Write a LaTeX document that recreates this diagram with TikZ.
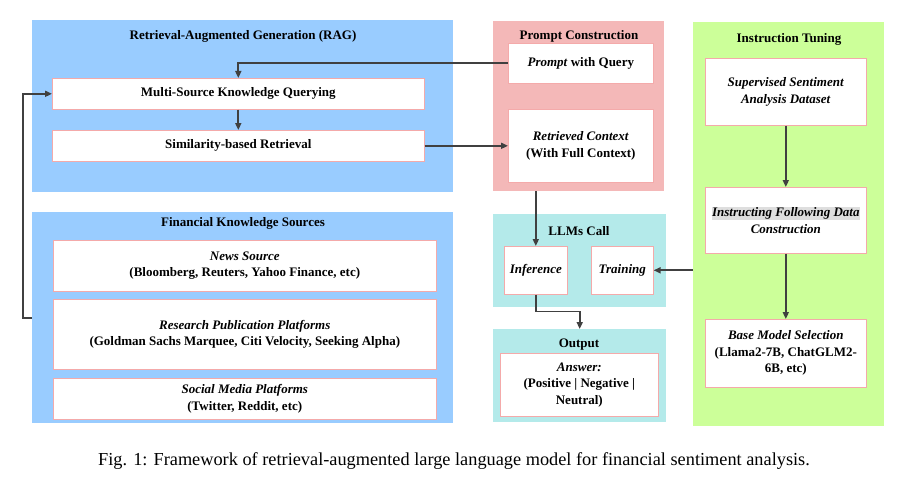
\documentclass[tikz,border=0pt]{standalone}
\usepackage{fontspec}
\setmainfont{Liberation Serif}
\usetikzlibrary{arrows.meta,positioning,calc}
\definecolor{ragblue}{RGB}{153,204,255}
\definecolor{promptpink}{RGB}{244,184,184}
\definecolor{llmcyan}{RGB}{180,234,234}
\definecolor{tunegreen}{RGB}{204,255,153}
\definecolor{boxedge}{RGB}{244,170,170}
\definecolor{flowgray}{RGB}{64,64,64}
\definecolor{hlgray}{RGB}{222,222,222}
\newcommand{\hlmark}[1]{{\setlength{\fboxsep}{0.5pt}\colorbox{hlgray}{#1}}}
\tikzset{panel/.style={draw=none,inner sep=0pt,anchor=north west},
  box/.style={draw=boxedge,line width=0.6pt,fill=white,inner sep=2pt,anchor=north west,
    align=center,font=\fontsize{13}{16.5}\selectfont\bfseries},
  flow/.style={-{Triangle[length=7pt,width=6pt]},line width=1.7pt,flowgray},
  paneltitle/.style={font=\fontsize{13}{16}\selectfont\bfseries}}

\begin{document}
\begin{tikzpicture}[x=1pt, y=-1pt]
\useasboundingbox (0,0) rectangle (909,484);
\node[panel, fill=ragblue, minimum width=421pt, minimum height=172pt] (rag) at (32,20) {};
\node[panel, fill=ragblue, minimum width=421pt, minimum height=211pt] (fks) at (32,212) {};
\node[panel, fill=promptpink, minimum width=171pt, minimum height=170pt] (pc) at (493,21) {};
\node[panel, fill=llmcyan, minimum width=173pt, minimum height=93pt] (llm) at (493,214) {};
\node[panel, fill=llmcyan, minimum width=173pt, minimum height=93pt] (out) at (493,329) {};
\node[panel, fill=tunegreen, minimum width=191pt, minimum height=404pt] (it) at (693,22) {};

\node[paneltitle] (ragt) at (243,36) {Retrieval-Augmented Generation (RAG)};
\node[paneltitle] (fkst) at (243,223) {Financial Knowledge Sources};
\node[paneltitle] (pct) at (579,36) {Prompt Construction};
\node[paneltitle] (llmt) at (579,231) {LLMs Call};
\node[paneltitle] (outt) at (579,345) {Output};
\node[paneltitle] (itt) at (789,39) {Instruction Tuning};

\node[box, minimum width=372pt, minimum height=31pt] (msq) at (52,78) {Multi-Source Knowledge Querying};
\node[box, minimum width=372pt, minimum height=31pt] (sim) at (52,130) {Similarity-based Retrieval};
\node[box, minimum width=383pt, minimum height=51pt] (news) at (53,240)
  {\textit{News Source}\\(Bloomberg, Reuters, Yahoo Finance, etc)};
\node[box, minimum width=383pt, minimum height=70pt] (res) at (53,299)
  {\textit{Research Publication Platforms}\\(Goldman Sachs Marquee, Citi Velocity, Seeking Alpha)};
\node[box, minimum width=383pt, minimum height=41pt] (soc) at (53,378)
  {\textit{Social Media Platforms}\\(Twitter, Reddit, etc)};

\node[box, minimum width=145pt, minimum height=40pt] (pwq) at (508,43) {\textit{Prompt} with Query};
\node[box, minimum width=145pt, minimum height=73pt] (ret) at (508,109)
  {\textit{Retrieved Context}\\(With Full Context)};
\node[box, minimum width=63pt, minimum height=48pt] (inf) at (504,246) {\textit{Inference}};
\node[box, minimum width=62pt, minimum height=48pt] (trn) at (591,246) {\textit{Training}};
\node[box, minimum width=158pt, minimum height=63pt] (ans) at (500,353)
  {\textit{Answer:}\\(Positive | Negative |\\Neutral)};

\node[box, minimum width=161pt, minimum height=67pt] (sup) at (705,58)
  {\textit{Supervised Sentiment}\\\textit{Analysis Dataset}};
\node[box, minimum width=161pt, minimum height=66pt] (ifd) at (705,187)
  {\hlmark{\textit{Instructing Following Data}}\\\textit{Construction}};
\node[box, minimum width=161pt, minimum height=68pt] (bms) at (705,319)
  {\textit{Base Model Selection}\\(Llama2-7B, ChatGLM2-\\6B, etc)};

\draw[flow] (pwq.west) -| (msq.north);
\draw[flow] (msq.south) -- (sim.north);
\draw[flow] (sim.east) -- (ret.west);
\draw[flow] (fks.west) -- ++(-9,0) |- (msq.west);
\draw[flow] (inf.north |- pc.south) -- (inf.north);
\draw[flow] (trn.east -| it.west) -- (trn.east);
\draw[flow] (inf.south) -- ++(0,17) -| (out.north);
\draw[flow] (sup.south) -- (ifd.north);
\draw[flow] (ifd.south) -- (bms.north);

\node[font=\fontsize{18.3}{21}\selectfont] (cap) at (454,461)
  {Fig. 1: Framework of retrieval-augmented large language model for financial sentiment analysis.};
\end{tikzpicture}
\end{document}
